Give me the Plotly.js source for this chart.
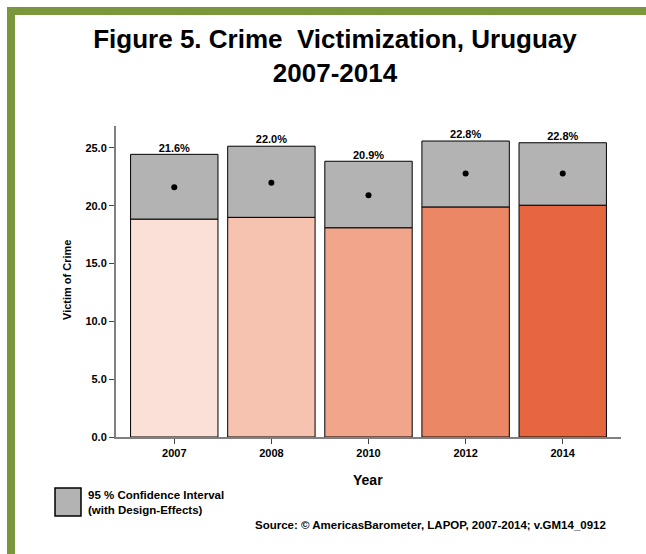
<!DOCTYPE html>
<html>
<head>
<meta charset="utf-8">
<script src="https://cdn.plot.ly/plotly-3.0.1.min.js"></script>
<style>html,body{margin:0;padding:0;background:#fff;}#chart{width:646px;height:554px;}</style>
</head>
<body>
<div id="chart"></div>
<script>
const years = ['2007', '2008', '2010', '2012', '2014'];
const means = [21.6, 22.0, 20.9, 22.8, 22.8];
const ciLower = [18.85, 19.0, 18.1, 19.9, 20.05];
const ciUpper = [24.45, 25.15, 23.85, 25.6, 25.45];
const barColors = ['#fae0d6', '#f5c3b0', '#f1a58a', '#ec8766', '#e6673f'];
const ciColor = '#b3b3b3';

const FONT = 'Liberation Sans, Arial, sans-serif';
const W = 646, H = 554;
const L = 116, R = 25, T = 126, B = 117;
const PW = W - L - R, PH = H - T - B;
const px = v => (v - L) / PW;
const py = v => (H - B - v) / PH;

const traces = [
  {
    type: 'bar', x: years, y: ciLower, base: 0, width: 0.9,
    marker: {color: barColors, line: {color: '#000', width: 1}},
    hoverinfo: 'skip', showlegend: false
  },
  {
    type: 'bar', x: years, y: ciUpper.map((u, i) => u - ciLower[i]), base: ciLower, width: 0.9,
    marker: {color: ciColor, line: {color: '#000', width: 1}},
    hoverinfo: 'skip', showlegend: false
  },
  {
    type: 'scatter', mode: 'markers', x: years, y: means,
    marker: {color: '#000', size: 6}, showlegend: false, hoverinfo: 'skip'
  },
  {
    type: 'scatter', mode: 'text', x: years, y: ciUpper,
    text: means.map(m => m.toFixed(1) + '%'), textposition: 'top center',
    textfont: {family: FONT, size: 11, color: '#000', weight: 'bold'},
    showlegend: false, hoverinfo: 'skip'
  }
];

const green = '#7a973c';
const layout = {
  width: W, height: H,
  margin: {l: L, r: R, t: T, b: B, pad: 0},
  paper_bgcolor: '#fff', plot_bgcolor: '#fff',
  barmode: 'overlay',
  showlegend: false,
  title: {
    text: 'Figure 5. Crime  Victimization, Uruguay<br>2007-2014',
    font: {family: FONT, size: 26, color: '#000', weight: 'bold'},
    x: px(335), xref: 'paper', xanchor: 'center',
    y: 1 - 48 / H, yref: 'container', yanchor: 'middle'
  },
  xaxis: {
    type: 'category', range: [-0.6, 4.6],
    showline: true, linecolor: '#808080', linewidth: 2,
    ticks: 'outside', ticklen: 5, tickcolor: '#444', tickwidth: 1,
    tickfont: {family: FONT, size: 11, color: '#000', weight: 'bold'},
    showgrid: false, zeroline: false, fixedrange: true
  },
  yaxis: {
    range: [0, 26.9], dtick: 5, tick0: 0, tickformat: '.1f',
    showline: true, linecolor: '#808080', linewidth: 2,
    ticks: 'outside', ticklen: 5, tickcolor: '#444', tickwidth: 1,
    tickfont: {family: FONT, size: 11, color: '#000', weight: 'bold'},
    showgrid: false, zeroline: false, fixedrange: true
  },
  shapes: [
    {type: 'rect', xref: 'paper', yref: 'paper', x0: px(7), x1: px(15), y0: py(H + 5), y1: py(7),
     fillcolor: green, line: {width: 0}, layer: 'above'},
    {type: 'rect', xref: 'paper', yref: 'paper', x0: px(7), x1: px(W + 5), y0: py(15), y1: py(7),
     fillcolor: green, line: {width: 0}, layer: 'above'},
    {type: 'rect', xref: 'paper', yref: 'paper', x0: px(55), x1: px(81), y0: py(516), y1: py(488),
     fillcolor: ciColor, line: {color: '#000', width: 1.5}}
  ],
  annotations: [
    {text: 'Victim of Crime', xref: 'paper', yref: 'paper', x: px(67), y: py(280),
     xanchor: 'center', yanchor: 'middle', textangle: -90, showarrow: false,
     font: {family: FONT, size: 11, color: '#000', weight: 'bold'}},
    {text: 'Year', xref: 'paper', yref: 'paper', x: px(368), y: py(480),
     xanchor: 'center', yanchor: 'middle', showarrow: false,
     font: {family: FONT, size: 14, color: '#000', weight: 'bold'}},
    {text: '95 % Confidence Interval<br>(with Design-Effects)', xref: 'paper', yref: 'paper',
     x: px(86), y: py(502), xanchor: 'left', yanchor: 'middle', align: 'left', showarrow: false,
     font: {family: FONT, size: 11.5, color: '#000', weight: 'bold'}},
    {text: 'Source: \u00A9 AmericasBarometer, LAPOP, 2007-2014; v.GM14_0912', xref: 'paper', yref: 'paper',
     x: px(608), y: py(524.5), xanchor: 'right', yanchor: 'middle', showarrow: false,
     font: {family: FONT, size: 11.5, color: '#000', weight: 'bold'}}
  ]
};

Plotly.newPlot('chart', traces, layout, {displayModeBar: false, staticPlot: true});
</script>
</body>
</html>
